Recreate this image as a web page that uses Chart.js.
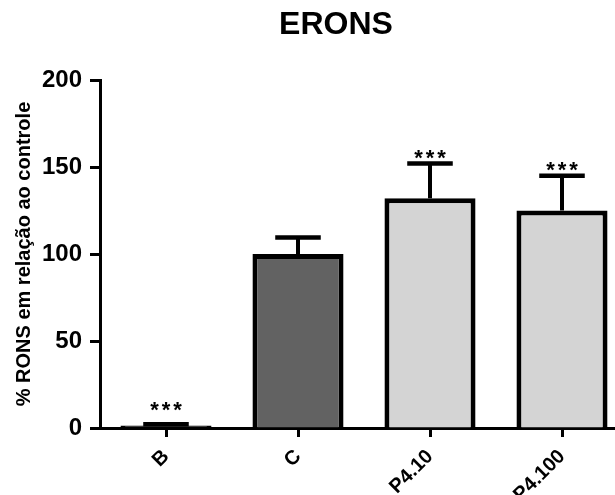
<!DOCTYPE html>
<html><head><meta charset="utf-8">
<script src="https://cdn.jsdelivr.net/npm/chart.js@4/dist/chart.umd.min.js"></script>
<style>
html,body{margin:0;padding:0;background:#fff;overflow:hidden;width:615px;height:495px}
#wrap{width:615px;height:495px;overflow:hidden;position:relative}
canvas{display:block}
</style>
</head><body><div id="wrap"><canvas id="c" width="630" height="495"></canvas></div>
<script>
const categories = ['B', 'C', 'P4.10', 'P4.100'];
const means = [1.5, 100, 132, 125];
const errorsUp = [0.6, 9.5, 20, 20];
const significance = ['***', '', '***', '***'];
const yTicks = [0, 50, 100, 150, 200];
const barColors = ['#000000', '#626262', '#d4d4d4', '#d4d4d4'];
const titleText = 'ERONS';
const yAxisTitle = '% RONS em relação ao controle';

const FONT = "'Liberation Sans', Arial, Helvetica, sans-serif";

const errorBarPlugin = {
  id: 'errorBars',
  afterDatasetsDraw(chart) {
    const ctx = chart.ctx;
    const meta = chart.getDatasetMeta(0);
    const y = chart.scales.y;
    ctx.save();
    ctx.strokeStyle = '#000';
    ctx.fillStyle = '#000';
    meta.data.forEach((bar, i) => {
      const x = bar.x;
      const half = bar.width / 4;
      const yBar = y.getPixelForValue(means[i]);
      const yTop = y.getPixelForValue(means[i] + errorsUp[i]);
      ctx.lineCap = 'butt';
      ctx.lineWidth = 4;
      ctx.beginPath();
      ctx.moveTo(x, yBar);
      ctx.lineTo(x, yTop);
      ctx.stroke();
      ctx.lineWidth = 4.5;
      ctx.beginPath();
      ctx.moveTo(x - half, yTop);
      ctx.lineTo(x + half, yTop);
      ctx.stroke();
      if (significance[i]) {
        const base = Math.min(yTop - 1, chart.chartArea.bottom - 13);
        ctx.font = 'bold 22px ' + FONT;
        ctx.letterSpacing = '3px';
        ctx.textAlign = 'center';
        ctx.textBaseline = 'alphabetic';
        ctx.fillText(significance[i], x + 1.5, base + 2);
      }
    });
    ctx.restore();
  }
};

const titleShiftPlugin = {
  id: 'titleShift',
  afterLayout(chart) {
    if (chart.titleBlock) chart.titleBlock.left = 44;
  }
};

new Chart(document.getElementById('c'), {
  type: 'bar',
  data: {
    labels: categories,
    datasets: [{
      data: means,
      backgroundColor: barColors,
      borderColor: '#000',
      borderWidth: 5,
      barPercentage: 0.69,
      categoryPercentage: 1.0
    }]
  },
  options: {
    responsive: false,
    animation: false,
    layout: { padding: { left: 0, right: 2, top: 0, bottom: 0 } },
    plugins: {
      legend: { display: false },
      tooltip: { enabled: false },
      title: {
        display: true,
        text: titleText,
        color: '#000',
        font: { family: FONT, size: 32, weight: 'bold', lineHeight: 1.2 },
        padding: { top: 6, bottom: 35.6 }
      }
    },
    scales: {
      x: {
        afterFit(s) { s.height = 67; },
        grid: { display: true, offset: false, drawOnChartArea: false, drawTicks: true, tickLength: 9, tickWidth: 3, tickColor: '#000' },
        border: { display: true, color: '#000', width: 3 },
        ticks: {
          color: '#000',
          font: { family: FONT, size: 20, weight: 'bold' },
          minRotation: 45, maxRotation: 45, padding: 8
        }
      },
      y: {
        min: 0, max: 200,
        afterFit(s) { s.width = 100; },
        afterBuildTicks(s) { s.ticks = yTicks.map(v => ({ value: v })); },
        grid: { display: true, drawOnChartArea: false, drawTicks: true, tickLength: 10, tickWidth: 3, tickColor: '#000' },
        border: { display: true, color: '#000', width: 3 },
        ticks: {
          color: '#000',
          font: { family: FONT, size: 24, weight: 'bold' },
          padding: 8
        },
        title: {
          display: true,
          text: yAxisTitle,
          color: '#000',
          font: { family: FONT, size: 20, weight: 'bold', lineHeight: 1.2 },
          padding: { top: 12, bottom: 0 }
        }
      }
    }
  },
  plugins: [errorBarPlugin, titleShiftPlugin]
});
</script>
</body></html>
